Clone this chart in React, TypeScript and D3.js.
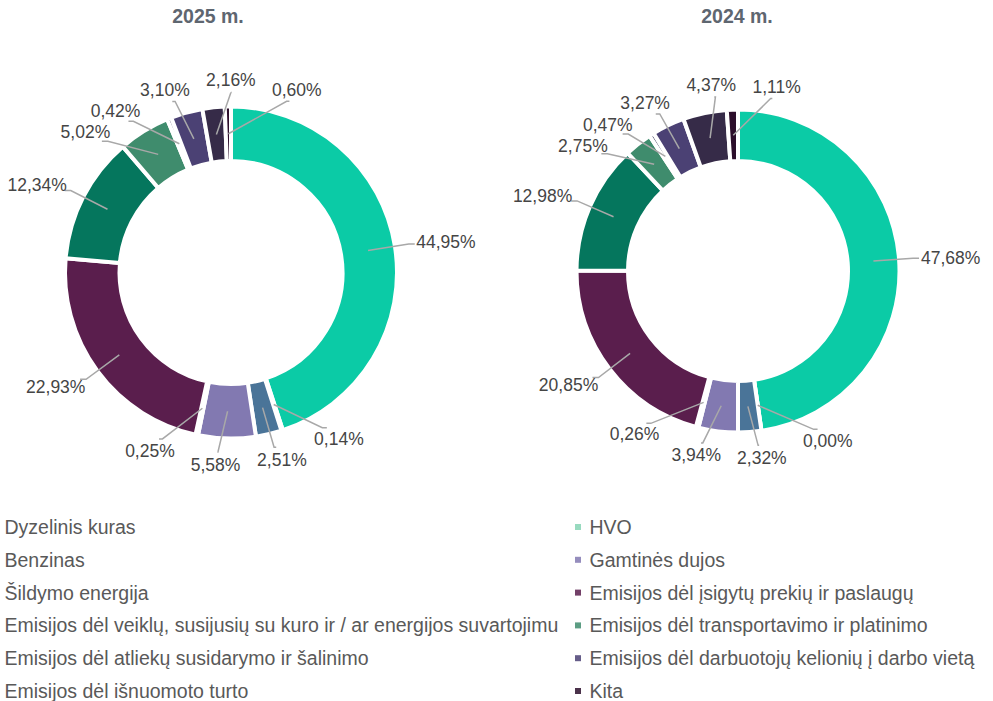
import React, { useMemo } from "react";
import * as d3 from "d3";

const categories = [
  "Dyzelinis kuras",
  "HVO",
  "Benzinas",
  "Gamtinės dujos",
  "Šildymo energija",
  "Emisijos dėl įsigytų prekių ir paslaugų",
  "Emisijos dėl veiklų, susijusių su kuro ir / ar energijos suvartojimu",
  "Emisijos dėl transportavimo ir platinimo",
  "Emisijos dėl atliekų susidarymo ir šalinimo",
  "Emisijos dėl darbuotojų kelionių į darbo vietą",
  "Emisijos dėl išnuomoto turto",
  "Kita",
];

const colors = [
  "#0bcba6",
  "#86d3b4",
  "#4a7498",
  "#8279b1",
  "#b4416e",
  "#5a1e4d",
  "#05765d",
  "#3f8c6d",
  "#3e3d5e",
  "#4b4174",
  "#362b48",
  "#2c0e2b",
];

const values2025 = [44.95, 0.14, 2.51, 5.58, 0.25, 22.93, 12.34, 5.02, 0.42, 3.1, 2.16, 0.6];
const values2024 = [47.68, 0.0, 2.32, 3.94, 0.26, 20.85, 12.98, 2.75, 0.47, 3.27, 4.37, 1.11];
const titles = ["2025 m.", "2024 m."];

const W = 993;
const H = 701;
const LABEL_FONT = 17.5;
const FONT = "'Liberation Sans', Arial, sans-serif";

let ctx: CanvasRenderingContext2D | null = null;
function measure(text: string, size: number, weight = "normal") {
  if (!ctx) ctx = document.createElement("canvas").getContext("2d");
  if (!ctx) return text.length * size * 0.55;
  ctx.font = `${weight} ${size}px ${FONT}`;
  return ctx.measureText(text).width;
}

const fmt = (v: number) => v.toFixed(2).replace(".", ",") + "%";

type Donut = { cx: number; cy: number; ro: number; ri: number; titleX: number };

function layoutLabels(arcs: d3.PieArcDatum<number>[], g: Donut) {
  const rl = g.ro + 14;
  const h = 13;
  const items = arcs.map((a) => {
    const th = (a.startAngle + a.endAngle) / 2;
    const text = fmt(a.data);
    return { th, phi: th, text, w: measure(text, LABEL_FONT) };
  });
  const box = (it: (typeof items)[number]) => {
    const s = Math.sin(it.phi);
    const c = Math.cos(it.phi);
    const A = { x: g.cx + rl * s, y: g.cy - rl * c };
    const C = { x: A.x + s * (it.w / 2 + 8), y: A.y - c * (h / 2 + 6) };
    return { A, C, x0: C.x - it.w / 2, x1: C.x + it.w / 2, y0: C.y - h / 2, y1: C.y + h / 2 };
  };
  const n = items.length;
  const padX = 16;
  const padY = 8;
  for (let iter = 0; iter < 2000; iter++) {
    let moved = false;
    for (let i = 0; i < n; i++) {
      const j = (i + 1) % n;
      const a = box(items[i]);
      const b = box(items[j]);
      const ov =
        a.x0 < b.x1 + padX && b.x0 < a.x1 + padX && a.y0 < b.y1 + padY && b.y0 < a.y1 + padY;
      if (ov) {
        items[i].phi -= 0.003;
        items[j].phi += 0.003;
        moved = true;
      }
    }
    if (!moved) break;
  }
  const rm = (g.ro + g.ri) / 2;
  return items.map((it) => {
    const b = box(it);
    const P0 = { x: g.cx + rm * Math.sin(it.th), y: g.cy - rm * Math.cos(it.th) };
    const s = Math.sin(it.phi);
    const hs = 6 * Math.sign(s) * Math.min(1, Math.abs(s) * 1.5);
    const path = `M${P0.x},${P0.y}L${b.A.x},${b.A.y}L${b.A.x + hs},${b.A.y}`;
    return { path, x: b.C.x, y: b.C.y, text: it.text };
  });
}

function DonutChart({ values, title, g }: { values: number[]; title: string; g: Donut }) {
  const arcs = useMemo(() => d3.pie<number>().sort(null).value((d) => d)(values), [values]);
  const arcGen = d3.arc<d3.PieArcDatum<number>>().innerRadius(g.ri).outerRadius(g.ro);
  const labels = useMemo(() => layoutLabels(arcs, g), [arcs]);
  return (
    <g>
      <text
        x={g.titleX}
        y={23}
        textAnchor="middle"
        fontFamily={FONT}
        fontWeight="bold"
        fontSize={19.5}
        fill="#5e6670"
      >
        {title}
      </text>
      <g transform={`translate(${g.cx},${g.cy})`}>
        {arcs.map((a, i) => (
          <path key={i} d={arcGen(a) || ""} fill={colors[i]} stroke="#fff" strokeWidth={4} strokeLinejoin="round" />
        ))}
      </g>
      {labels.map((l, i) => (
        <g key={i}>
          <path d={l.path} fill="none" stroke="#a8a8a8" strokeWidth={1.5} />
          <text
            x={l.x}
            y={l.y}
            dy="0.36em"
            textAnchor="middle"
            fontFamily={FONT}
            fontSize={LABEL_FONT}
            fill="#454545"
          >
            {l.text}
          </text>
        </g>
      ))}
    </g>
  );
}

export default function App() {
  const donuts: Donut[] = [
    { cx: 231, cy: 272.5, ro: 166, ri: 111.5, titleX: 208 },
    { cx: 738, cy: 271, ro: 161.5, ri: 110, titleX: 737 },
  ];
  const series = [values2025, values2024];
  const legendY0 = 527;
  const legendStep = 32.8;
  const colX = [-10, 575];
  return (
    <div style={{ position: "absolute", left: 0, top: 0, width: W, height: H, overflow: "hidden", background: "#fff" }}>
      <svg width={W} height={H} style={{ display: "block" }}>
        <rect width={W} height={H} fill="#fff" />
        {series.map((vals, k) => (
          <DonutChart key={k} values={vals} title={titles[k]} g={donuts[k]} />
        ))}
        {categories.map((c, i) => {
          const col = i % 2;
          const row = Math.floor(i / 2);
          const y = legendY0 + row * legendStep;
          const x = colX[col];
          return (
            <g key={c}>
              <rect x={x} y={y - 3} width={6} height={6} fill={colors[i]} opacity={0.85} />
              <text x={x + 14.5} y={y + 7} fontFamily={FONT} fontSize={19.5} fill="#595959">
                {c}
              </text>
            </g>
          );
        })}
      </svg>
    </div>
  );
}
